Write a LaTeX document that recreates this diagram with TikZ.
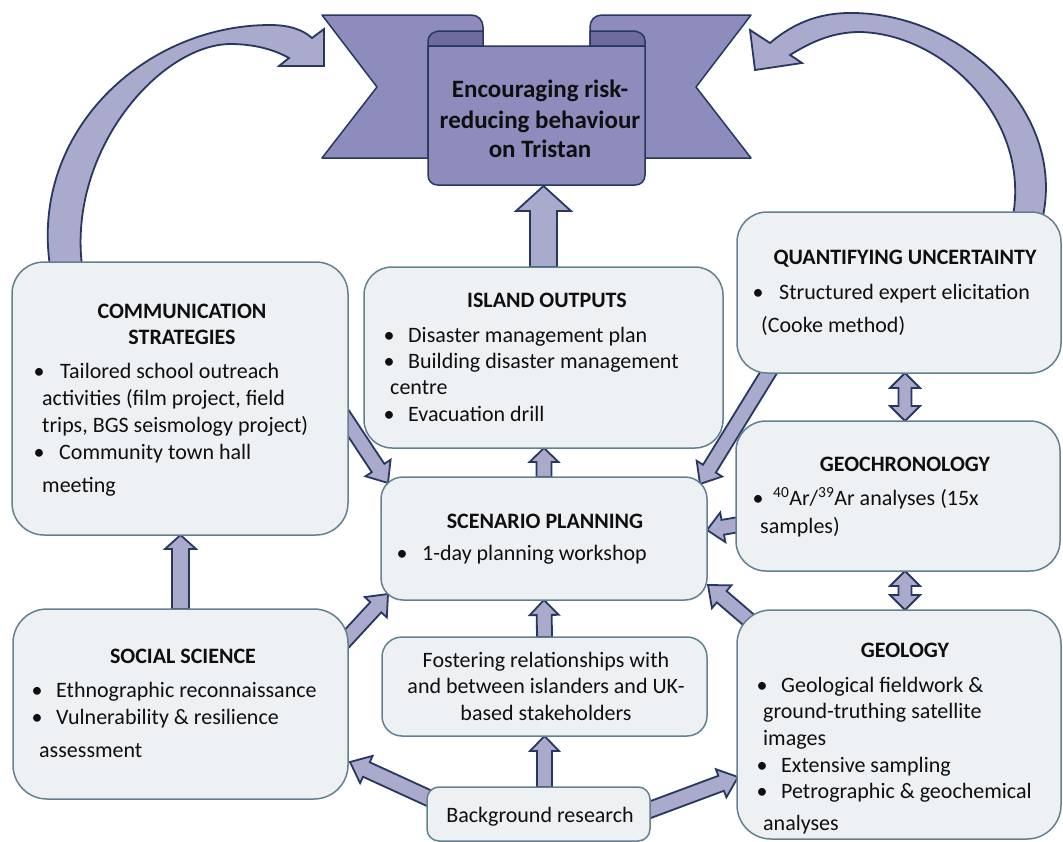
\documentclass[tikz,border=0pt]{standalone}
\usepackage{fontspec}
\setmainfont{Carlito}
\usetikzlibrary{calc}
\pgfdeclarelayer{background}
\pgfsetlayers{background,main}
\definecolor{boxfill}{RGB}{238,241,244}
\definecolor{boxline}{RGB}{100,128,142}
\definecolor{arrfill}{RGB}{170,170,205}
\definecolor{navy}{RGB}{40,55,98}
\definecolor{banfill}{RGB}{141,140,189}
\definecolor{curlfill}{RGB}{110,108,158}
\definecolor{textcol}{RGB}{15,15,15}
% block arrow: #1 from, #2 to (tip), #3 half shaft, #4 half head, #5 head length
\newcommand\BArrow[5]{%
  \draw[blockarr] ($(#1)!#3!90:(#2)$)
    -- ($(#2)!#5!(#1)!#3!-90:(#1)$)
    -- ($(#2)!#5!(#1)!#4!-90:(#1)$)
    -- (#2)
    -- ($(#2)!#5!(#1)!#4!90:(#1)$)
    -- ($(#2)!#5!(#1)!#3!90:(#1)$)
    -- ($(#1)!#3!-90:(#2)$) -- cycle;}
% double block arrow
\newcommand\DArrow[5]{%
  \draw[blockarr] (#1)
    -- ($(#1)!#5!(#2)!#4!90:(#2)$)
    -- ($(#1)!#5!(#2)!#3!90:(#2)$)
    -- ($(#2)!#5!(#1)!#3!-90:(#1)$)
    -- ($(#2)!#5!(#1)!#4!-90:(#1)$)
    -- (#2)
    -- ($(#2)!#5!(#1)!#4!90:(#1)$)
    -- ($(#2)!#5!(#1)!#3!90:(#1)$)
    -- ($(#1)!#5!(#2)!#3!-90:(#2)$)
    -- ($(#1)!#5!(#2)!#4!-90:(#2)$) -- cycle;}
\newcommand\BulAt[1]{\llap{\makebox[0pt]{\textbullet}\hspace{#1}}}
\begin{document}
\begin{tikzpicture}[x=1pt,y=-1pt,
  roundbox/.style={draw=boxline, fill=boxfill, line width=1.5pt, rounded corners=#1, inner sep=0pt, outer sep=0pt},
  blockarr/.style={draw=navy, fill=arrfill, line width=1.8pt},
  curvearr/.style={draw=navy, fill=arrfill, line width=1.8pt},
  banline/.style={draw=navy, line width=1.5pt, line join=round},
  bodytxt/.style={font=\fontsize{22}{26}\selectfont, text=textcol, inner sep=0pt, anchor=base west},
  ctrtxt/.style={font=\fontsize{22}{26}\selectfont, text=textcol, inner sep=0pt, anchor=base},
  headtxt/.style={font=\fontsize{22}{26}\selectfont\bfseries, text=textcol, inner sep=0pt, anchor=base},
  bantxt/.style={font=\fontsize{25}{30}\selectfont\bfseries, text=textcol, inner sep=0pt, anchor=base}]

\useasboundingbox (0,0) rectangle (1063,841);

% ---------- boxes ----------
\node[roundbox=32, minimum width=336pt, minimum height=273pt] (comm) at (180,398.5) {};
\node[roundbox=28, minimum width=359pt, minimum height=181pt] (isl) at (543.5,357.5) {};
\node[roundbox=22, minimum width=326pt, minimum height=123pt] (scen) at (544,538.5) {};
\node[roundbox=30, minimum width=324pt, minimum height=161pt] (quant) at (899,292.5) {};
\node[roundbox=30, minimum width=324pt, minimum height=150pt] (geoc) at (898,496) {};
\node[roundbox=34, minimum width=335pt, minimum height=190pt] (soc) at (180.5,704) {};
\node[roundbox=20, minimum width=325pt, minimum height=99pt] (fost) at (544.5,686.5) {};
\node[roundbox=12, minimum width=223pt, minimum height=54pt] (back) at (538.5,814) {};
\node[roundbox=34, minimum width=324pt, minimum height=229pt] (geol) at (899,724.5) {};

% ---------- connector end points ----------
\coordinate (bb) at (543,186);
\coordinate (a1s) at (back.north -| fost.south);
\coordinate (a3t) at (scen.north |- isl.south);
\coordinate (a4t) at (isl.north |- bb);
\coordinate (a5t) at (soc.north |- comm.south);
\coordinate (d1s) at ($(comm.east)+(-8,12)$);
\coordinate (d1t) at ($(scen.north west)+(7,6)$);
\coordinate (d2s) at ($(soc.east)+(-8,-58)$);
\coordinate (d2t) at ($(scen.south west)+(7,-6)$);
\coordinate (d3s) at ($(back.west)+(6,-14)$);
\coordinate (d3t) at ($(soc.east)+(2,58)$);
\coordinate (d4s) at ($(back.east)+(-6,-2)$);
\coordinate (d4t) at ($(geol.west)+(1,52.5)$);
\coordinate (d5s) at ($(quant.south west)+(35,-6)$);
\coordinate (d5t) at ($(scen.north east)+(-7,7)$);
\coordinate (d6s) at ($(geoc.west)+(6,28)$);
\coordinate (d6t) at ($(scen.east)+(0,-8.5)$);
\coordinate (d7s) at ($(geol.north west)+(20,17)$);
\coordinate (d7t) at ($(scen.south east)+(1,-15)$);
\coordinate (e1a) at ($(quant.south)+(6,0)$);
\coordinate (e1b) at ($(geoc.north)+(7,0)$);
\coordinate (e2a) at ($(geoc.south)+(7,0)$);
\coordinate (e2b) at ($(geol.north)+(6,0)$);
\coordinate (lca) at ($(comm.north west)+(38,4)$);
\coordinate (lcb) at ($(comm.north west)+(70,4)$);
\coordinate (rca) at ($(quant.north east)+(-18,4)$);
\coordinate (rcb) at ($(quant.north east)+(-48,4)$);
\coordinate (lctip) at (324,66);
\coordinate (rctip) at (755,70);

\begin{pgfonlayer}{background}
\fill[white] (0,0) rectangle (1063,841);
% curved arrows
\draw[curvearr] (lca) .. controls (30,131) and (145,25) .. (270,25)
  .. controls (290,25) and (303,30) .. (312,38) -- (324,29) -- (lctip) -- (279,66) -- (289,58)
  .. controls (275,50) and (255,44) .. (230,44) .. controls (160,45) and (68,150) .. (lcb) -- cycle;
\draw[curvearr] (rca) .. controls (1065,110) and (960,12) .. (850,13)
  .. controls (815,13) and (790,26) .. (770,43) -- (750,30) -- (rctip) -- (802,63) -- (790,55)
  .. controls (808,44) and (830,32) .. (860,32) .. controls (945,34) and (1030,120) .. (rcb) -- cycle;
% block arrows
\BArrow{a1s}{fost.south}{7.5pt}{14.5pt}{15pt}
\BArrow{fost.north}{scen.south}{7.5pt}{14.5pt}{15pt}
\BArrow{scen.north}{a3t}{7.5pt}{14.5pt}{14pt}
\BArrow{isl.north}{a4t}{13.5pt}{27.5pt}{25pt}
\BArrow{soc.north}{a5t}{8.5pt}{15.5pt}{14pt}
\BArrow{d1s}{d1t}{7.5pt}{15pt}{18pt}
\BArrow{d2s}{d2t}{7.5pt}{15pt}{18pt}
\BArrow{d3s}{d3t}{8pt}{15pt}{18pt}
\BArrow{d4s}{d4t}{8pt}{15pt}{18pt}
\BArrow{d5s}{d5t}{7.5pt}{15pt}{18pt}
\BArrow{d6s}{d6t}{7.5pt}{15pt}{16pt}
\BArrow{d7s}{d7t}{7.5pt}{15pt}{18pt}
\DArrow{e1a}{e1b}{6.5pt}{15pt}{15pt}
\DArrow{e2a}{e2b}{6.5pt}{15pt}{15pt}
\end{pgfonlayer}

% ---------- banner ----------
\draw[banline, fill=banfill] (322,15) -- (471,15) .. controls (478,15) and (483,20) .. (483,27)
  -- (483,46) -- (428,46) -- (428,158) -- (322,158) -- (377,87) -- cycle;
\draw[banline, fill=banfill] (751,15) -- (602,15) .. controls (595,15) and (590,20) .. (590,27)
  -- (590,46) -- (645,46) -- (645,158) -- (751,158) -- (696,87) -- cycle;
\draw[banline, fill=curlfill] (428,46) -- (428,41) .. controls (428,35) and (433,31) .. (441,31)
  -- (483,31) -- (483,46) -- cycle;
\draw[banline, fill=curlfill] (645,46) -- (645,41) .. controls (645,35) and (640,31) .. (632,31)
  -- (590,31) -- (590,46) -- cycle;
\draw[banline, fill=banfill] (428,46) -- (428,175) .. controls (428,181) and (432,185) .. (438,185)
  -- (635,185) .. controls (641,185) and (645,181) .. (645,175) -- (645,46) -- cycle;
\node[bantxt] (ban1) at (540,97) {Encouraging risk-};
\node[bantxt] (ban2) at (540,128) {reducing behaviour};
\node[bantxt] (ban3) at (540,157) {on Tristan};

% ---------- texts ----------
\node[headtxt] (c1) at (182,318) {COMMUNICATION};
\node[headtxt] (c2) at (182,344) {STRATEGIES};
\node[bodytxt] (c3) at (60,378) {\BulAt{21pt}Tailored school outreach};
\node[bodytxt] (c4) at (42,405) {activities (film project, field};
\node[bodytxt] (c5) at (42,432) {trips, BGS seismology project)};
\node[bodytxt] (c6) at (59,459) {\BulAt{20pt}Community town hall};
\node[bodytxt] (c7) at (42,492) {meeting};

\node[headtxt] (i1) at (547,307) {ISLAND OUTPUTS};
\node[bodytxt] (i2) at (408,342) {\BulAt{19pt}Disaster management plan};
\node[bodytxt] (i3) at (408,368) {\BulAt{19pt}Building disaster management};
\node[bodytxt] (i4) at (390,394) {centre};
\node[bodytxt] (i5) at (408,421) {\BulAt{19pt}Evacuation drill};

\node[headtxt] (s1) at (545,528) {SCENARIO PLANNING};
\node[bodytxt] (s2) at (422,560) {\BulAt{20pt}1-day planning workshop};

\node[headtxt] (q1) at (905,264) {QUANTIFYING UNCERTAINTY};
\node[bodytxt] (q2) at (779,299) {\BulAt{21pt}Structured expert elicitation};
\node[bodytxt] (q3) at (761,332) {(Cooke method)};

\node[headtxt] (g1) at (905,471) {GEOCHRONOLOGY};
\node[bodytxt] (g2) at (773,505) {\BulAt{15pt}\textsuperscript{40}Ar/\textsuperscript{39}Ar analyses (15x};
\node[bodytxt] (g3) at (760,533) {samples)};

\node[headtxt] (o1) at (183,663) {SOCIAL SCIENCE};
\node[bodytxt] (o2) at (56,697) {\BulAt{19pt}Ethnographic reconnaissance};
\node[bodytxt] (o3) at (56,724) {\BulAt{19pt}Vulnerability \& resilience};
\node[bodytxt] (o4) at (39,757) {assessment};

\node[ctrtxt] (f1) at (546,667) {Fostering relationships with};
\node[ctrtxt] (f2) at (546,693) {and between islanders and UK-};
\node[ctrtxt] (f3) at (546,720) {based stakeholders};

\node[ctrtxt] (k1) at (540,822) {Background research};

\node[headtxt] (l1) at (905,657) {GEOLOGY};
\node[bodytxt] (l2) at (781,692) {\BulAt{19pt}Geological fieldwork \&};
\node[bodytxt] (l3) at (763,718) {ground-truthing satellite};
\node[bodytxt] (l4) at (763,745) {images};
\node[bodytxt] (l5) at (781,772) {\BulAt{19pt}Extensive sampling};
\node[bodytxt] (l6) at (781,798) {\BulAt{19pt}Petrographic \& geochemical};
\node[bodytxt] (l7) at (763,830) {analyses};
\end{tikzpicture}
\end{document}
